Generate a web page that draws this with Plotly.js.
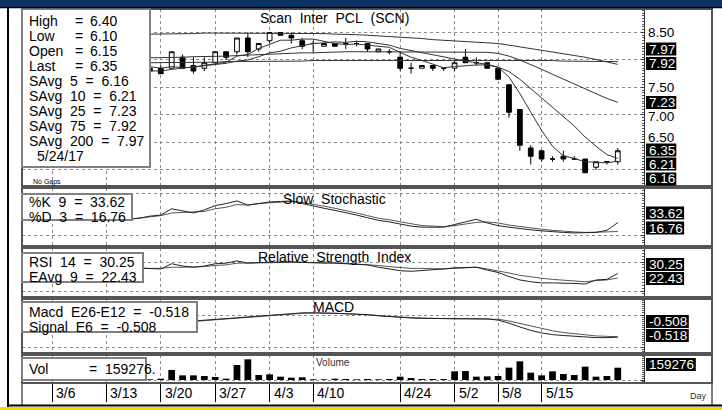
<!DOCTYPE html>
<html><head><meta charset="utf-8">
<script src="https://cdn.plot.ly/plotly-3.0.1.min.js"></script>
<style>html,body{margin:0;padding:0;background:#fff;}#chart{width:722px;height:410px;}</style>
</head><body><div id="chart"></div>
<script>
const W = 722, H = 410;
const FONT = 'Arial, "Liberation Sans", sans-serif';

// ---- data (x = trading-day index, 3/6/17 = 0, 5/24/17 = 52) ----
const candleStart = 9;
const open  = [7.85,7.85,7.85,8.05,7.90,7.85,7.95,8.15,8.15,8.40,8.20,8.35,8.50,8.45,8.35,8.30,8.25,8.30,8.30,8.30,8.30,8.15,8.15,8.05,7.85,7.85,7.90,7.85,7.85,8.05,7.95,7.95,7.85,7.55,7.10,6.40,6.35,6.20,6.25,6.20,6.20,6.05,6.15,6.15];
const high  = [7.90,7.90,8.15,8.10,8.05,8.05,8.15,8.15,8.40,8.50,8.30,8.50,8.50,8.50,8.40,8.35,8.30,8.30,8.40,8.35,8.30,8.20,8.20,8.15,7.95,7.90,7.90,7.85,8.00,8.20,8.05,7.95,7.85,7.55,7.10,6.45,6.35,6.25,6.35,6.25,6.20,6.15,6.15,6.40];
const low   = [7.80,7.75,7.85,7.85,7.75,7.80,7.95,8.00,8.10,8.05,8.15,8.30,8.45,8.30,8.20,8.15,8.25,8.25,8.20,8.25,8.15,8.15,8.10,7.80,7.75,7.85,7.80,7.80,7.80,7.95,7.90,7.85,7.65,6.95,6.35,6.10,6.15,6.15,6.15,6.20,5.95,6.00,6.10,6.10];
const close = [7.80,7.75,8.15,7.85,7.80,7.95,8.15,8.05,8.40,8.15,8.30,8.50,8.45,8.40,8.25,8.30,8.30,8.25,8.30,8.30,8.20,8.20,8.15,7.85,7.85,7.90,7.85,7.85,7.95,7.95,7.95,7.85,7.65,7.05,6.45,6.25,6.20,6.20,6.20,6.20,5.95,6.15,6.15,6.35];
const sma5   = [7.88,7.85,7.88,7.86,7.87,7.90,7.94,7.96,8.07,8.10,8.21,8.28,8.36,8.36,8.38,8.38,8.34,8.30,8.28,8.29,8.27,8.25,8.23,8.14,8.05,7.99,7.92,7.86,7.88,7.90,7.91,7.91,7.87,7.69,7.39,7.05,6.72,6.43,6.26,6.21,6.15,6.14,6.13,6.16];
const sma10  = [7.80,7.80,7.83,7.85,7.87,7.90,7.92,7.94,7.98,8.00,8.06,8.13,8.16,8.22,8.26,8.30,8.31,8.33,8.32,8.34,8.33,8.30,8.27,8.21,8.17,8.13,8.09,8.05,8.01,7.98,7.95,7.92,7.87,7.79,7.65,7.48,7.32,7.15,6.98,6.80,6.60,6.43,6.28,6.21];
const sma25  = [8.04,8.04,8.05,8.05,8.06,8.06,8.07,8.07,8.08,8.09,8.10,8.11,8.12,8.12,8.13,8.13,8.14,8.14,8.15,8.15,8.15,8.15,8.15,8.15,8.15,8.15,8.15,8.14,8.15,8.15,8.15,8.14,8.12,8.07,8.00,7.92,7.83,7.74,7.65,7.57,7.47,7.39,7.30,7.23];
const sma75  = [8.47,8.47,8.48,8.48,8.48,8.49,8.49,8.49,8.49,8.49,8.49,8.49,8.49,8.49,8.48,8.48,8.48,8.47,8.47,8.46,8.45,8.44,8.43,8.42,8.40,8.39,8.37,8.36,8.35,8.34,8.33,8.32,8.30,8.27,8.24,8.21,8.18,8.15,8.12,8.09,8.05,8.01,7.97,7.92];
const sma200 = [7.95,7.95,7.95,7.96,7.96,7.96,7.96,7.97,7.97,7.97,7.97,7.98,7.98,7.98,7.98,7.99,7.99,7.99,7.99,8.00,8.00,8.00,8.00,8.00,8.00,8.00,8.00,8.00,8.00,8.00,8.00,8.00,8.00,8.00,7.99,7.99,7.99,7.99,7.98,7.98,7.98,7.98,7.97,7.97];

const stochStart = 7;
const stochK = [40,42,46,48,60,56,52,58,66,70,75,67,70,73,74,75,70,65,61,57,53,48,43,38,35,31,27,25,25,25,30,35,40,33,28,25,22,20,18,16,15,14,14,15,19,33.62];
const stochD = [40,42,45,47,52,53,53,55,60,63,68,67,70,71,73,74,72,69,65,61,57,52,47,42,39,35,31,28,27,26,28,31,34,35,33,29,26,23,21,19,17,16,15,15,16,16.76];

const rsiStart = 7;
const rsi14    = [40,39,38,38,47,43,41,43,47,48,52,48,49,50,50,50,49,49,48,48,47,47,45,41,38,35,34,35,37,38,40,41,41,36,32,25,19,16,14,14,14,13,12,19,20,30.25];
const rsiEavg9 = [40,39,39,39,41,41,41,42,44,45,48,48,48,48,49,50,49,49,50,49,48,47,46,44,42,40,39,39,38,38,39,40,41,38,35,31,27,24,22,20,18.5,17,16,18,19,22.43];

const macdStart = 12;
const macdLine   = [-0.16,-0.14,-0.12,-0.10,-0.08,-0.06,-0.04,-0.02,0.00,0.02,0.04,0.05,0.05,0.05,0.04,0.03,0.02,0.01,-0.02,-0.04,-0.06,-0.07,-0.08,-0.08,-0.09,-0.09,-0.09,-0.09,-0.09,-0.12,-0.19,-0.28,-0.36,-0.42,-0.46,-0.48,-0.50,-0.52,-0.53,-0.53,-0.518];
const macdSignal = [-0.17,-0.15,-0.13,-0.11,-0.09,-0.07,-0.05,-0.03,-0.01,0.01,0.03,0.04,0.05,0.05,0.04,0.03,0.02,0.01,-0.01,-0.03,-0.05,-0.06,-0.07,-0.08,-0.08,-0.09,-0.09,-0.09,-0.09,-0.10,-0.14,-0.20,-0.26,-0.32,-0.37,-0.41,-0.44,-0.47,-0.49,-0.50,-0.508];

const volStart = 9;
const volume = [9000,17000,130000,60000,60000,52000,39000,17000,194000,268000,65000,73000,43000,30000,35000,9000,9000,17000,13000,9000,13000,9000,13000,43000,26000,13000,13000,13000,112000,117000,43000,47000,52000,160000,242000,95000,60000,112000,78000,65000,173000,43000,52000,159276];

const tickIdx  = [0,5,10,15,20,24,32,37,41,45];
const tickText = ['3/6','3/13','3/20','3/27','4/3','4/10','4/24','5/2','5/8','5/15'];
const lastDate = '5/24/17';

// ---- helpers ----
const xs = (start, arr) => arr.map((_, i) => start + i);
const P = px => px / W;
const Q = py => 1 - py / H;
const last = a => a[a.length - 1];
const nb = s => s.replace(/ /g, '\u00a0');
const f2 = v => v.toFixed(2);

const lineStyle = {color: '#333', width: 1};
const traces = [
  {type: 'candlestick', x: xs(candleStart, open), open, high, low, close,
   xaxis: 'x', yaxis: 'y', whiskerwidth: 0, hoverinfo: 'none',
   increasing: {line: {color: '#000', width: 1}, fillcolor: '#fff'},
   decreasing: {line: {color: '#000', width: 1}, fillcolor: '#000'}},
  ...[sma200, sma75, sma25, sma10, sma5].map(a => ({type: 'scatter', mode: 'lines', x: xs(candleStart, a), y: a,
     xaxis: 'x', yaxis: 'y', line: lineStyle, hoverinfo: 'skip'})),
  {type: 'scatter', mode: 'lines', x: xs(stochStart, stochD), y: stochD, yaxis: 'y2', line: {color: '#555', width: 1}, hoverinfo: 'skip'},
  {type: 'scatter', mode: 'lines', x: xs(stochStart, stochK), y: stochK, yaxis: 'y2', line: {color: '#222', width: 1}, hoverinfo: 'skip'},
  {type: 'scatter', mode: 'lines', x: xs(rsiStart, rsiEavg9), y: rsiEavg9, yaxis: 'y3', line: {color: '#555', width: 1}, hoverinfo: 'skip'},
  {type: 'scatter', mode: 'lines', x: xs(rsiStart, rsi14), y: rsi14, yaxis: 'y3', line: {color: '#222', width: 1}, hoverinfo: 'skip'},
  {type: 'scatter', mode: 'lines', x: xs(macdStart, macdSignal), y: macdSignal, yaxis: 'y4', line: {color: '#555', width: 1}, hoverinfo: 'skip'},
  {type: 'scatter', mode: 'lines', x: xs(macdStart, macdLine), y: macdLine, yaxis: 'y4', line: {color: '#222', width: 1}, hoverinfo: 'skip'},
  {type: 'bar', x: xs(volStart, volume), y: volume, yaxis: 'y5', width: 0.62, marker: {color: '#000', line: {width: 0}}, hoverinfo: 'skip'}
];

function yax(top, bottom, range, gridVals, minorDtick) {
  return {domain: [Q(bottom), Q(top)], range, anchor: 'x', side: 'right', fixedrange: true,
    showline: true, linecolor: '#333', linewidth: 1, ticks: 'inside', ticklen: 3, tickcolor: '#333',
    tickmode: 'array', tickvals: gridVals, showticklabels: false,
    showgrid: true, gridcolor: '#8a8a8a', griddash: 'dot', gridwidth: 1, zeroline: false,
    minor: {dtick: minorDtick, ticks: 'inside', ticklen: 2, tickcolor: '#555', showgrid: false}};
}

const shapes = [];
const rect = (x0, y0, x1, y1, o) => shapes.push(Object.assign({type: 'rect', xref: 'paper', yref: 'paper',
  x0: P(x0), x1: P(x1), y0: Q(y1), y1: Q(y0), layer: 'above'}, o));
const hline = (x0, x1, y, color, w) => shapes.push({type: 'line', xref: 'paper', yref: 'paper',
  x0: P(x0), x1: P(x1), y0: Q(y), y1: Q(y), line: {color, width: w}, layer: 'above'});
const vline = (x, y0, y1, color, w) => shapes.push({type: 'line', xref: 'paper', yref: 'paper',
  x0: P(x), x1: P(x), y0: Q(y0), y1: Q(y1), line: {color, width: w}, layer: 'above'});

// panel frames
[[9,186],[188,246],[248,297],[299,353],[355,383]].forEach(([t,b]) =>
  rect(22, t, 712, b, {line: {color: '#555', width: 2}, fillcolor: 'rgba(0,0,0,0)'}));
vline(22, 383, 405, '#555', 1.5);
vline(712, 383, 405, '#555', 1.5);
// legend boxes
const box = (x1, y0, y1) => rect(22, y0, x1, y1, {line: {color: '#808080', width: 2}, fillcolor: '#fff'});
box(150, 9, 167); box(132, 194, 220); box(143, 253, 282); box(197, 302, 332); box(146, 358, 380);
// outer frame decorations
rect(0, 0, 722, 7, {line: {width: 0}, fillcolor: '#0e3466'});
hline(0, 722, 7.5, '#000', 1.5);
rect(7, 7, 9, 407, {line: {width: 0}, fillcolor: '#000'});
hline(7, 722, 405.5, '#000', 2);
rect(0, 407, 722, 410, {line: {width: 0}, fillcolor: '#f5d10f'});

const ann = [];
const T = (x, y, text, o = {}) => ann.push(Object.assign({xref: 'paper', yref: 'paper', x: P(x), y: Q(y),
  xanchor: 'left', yanchor: 'middle', text: nb(text), showarrow: false,
  font: {family: FONT, size: 14, color: '#000'}}, o));
// right-hand value label: black box (shape) with white text
const textW = s => s.split('').reduce((w, c) => w + (c === '.' ? 3.9 : c === '-' ? 4.7 : 7.8), 0);
const B = (y, text) => {
  rect(646, y - 6.5, 646 + textW(text) + 3, y + 6.5, {line: {width: 0}, fillcolor: '#000'});
  T(647, y, text, {font: {family: FONT, size: 13.5, color: '#fff'}});
};

// titles
T(334, 18, 'Scan  Inter  PCL  (SCN)', {xanchor: 'center'});
T(334, 199, 'Slow  Stochastic', {xanchor: 'center'});
T(334, 257, 'Relative  Strength  Index', {xanchor: 'center'});
T(333, 307, 'MACD', {xanchor: 'center'});
T(333, 362, 'Volume', {xanchor: 'center', font: {family: FONT, size: 10, color: '#333'}});
T(688, 396, 'Day', {font: {family: FONT, size: 9, color: '#333'}});
T(31, 182, 'No Gaps', {font: {family: FONT, size: 7, color: '#000'}});

// price legend
const li = close.length - 1;
[['High', high[li]], ['Low', low[li]], ['Open', open[li]], ['Last', close[li]]].forEach(([k, v], i) => {
  T(27, 21 + 15 * i, k); T(73, 21 + 15 * i, '='); T(88, 21 + 15 * i, f2(v));
});
[['5', sma5], ['10', sma10], ['25', sma25], ['75', sma75], ['200', sma200]].forEach(([n, a], i) =>
  T(27, 81 + 15 * i, 'SAvg  ' + n + '  =  ' + f2(last(a))));
T(35, 156, lastDate);
// indicator legends
T(27, 202, '%K  9  =  ' + f2(last(stochK)));
T(27, 217, '%D  3  =  ' + f2(last(stochD)));
T(27, 262, 'RSI  14  =  ' + f2(last(rsi14)));
T(27, 277, 'EAvg  9  =  ' + f2(last(rsiEavg9)));
T(27, 312, 'Macd  E26-E12  =  ' + last(macdLine).toFixed(3));
T(27, 327, 'Signal  E6  =  ' + last(macdSignal).toFixed(3));
T(27, 369, 'Vol'); T(87, 369, '='); T(103, 369, last(volume) + '.');

// right scale labels (plain)
[[33, '8.50'], [88, '7.50'], [116, '7.00'], [137, '6.50']].forEach(([y, t]) => T(646, y, t, {font: {family: FONT, size: 13.5, color: '#000'}}));
// boxed last values
B(49, f2(last(sma200))); B(63.5, f2(last(sma75))); B(102.5, f2(last(sma25)));
B(150, f2(close[li])); B(164, f2(last(sma10))); B(179, f2(last(sma5)));
B(213, f2(last(stochK))); B(228, f2(last(stochD)));
B(264.5, f2(last(rsi14))); B(278.5, f2(last(rsiEavg9)));
B(321.5, last(macdSignal).toFixed(3)); B(335.5, last(macdLine).toFixed(3));
B(364.5, String(last(volume)));

// date labels
tickIdx.forEach((t, i) => ann.push({xref: 'x', yref: 'paper', x: t, y: Q(393), xanchor: 'left', yanchor: 'middle',
  xshift: 2, text: tickText[i], showarrow: false, font: {family: FONT, size: 14, color: '#000'}}));

const layout = {
  width: W, height: H, margin: {l: 0, r: 0, t: 0, b: 0}, paper_bgcolor: '#fff', plot_bgcolor: 'rgba(0,0,0,0)',
  showlegend: false, boxgap: 0.38, dragmode: false, hovermode: false,
  xaxis: {domain: [P(22), P(644)], range: [-2.757, 54.41], anchor: 'y5', fixedrange: true,
    rangeslider: {visible: false}, tickmode: 'array', tickvals: tickIdx, showticklabels: false,
    ticks: 'outside', ticklen: 18, tickcolor: '#000', tickwidth: 1,
    showgrid: true, gridcolor: '#8a8a8a', griddash: 'dot', gridwidth: 1, zeroline: false,
    showline: true, linecolor: '#444', linewidth: 1},
  yaxis:  yax(9, 186, [5.709, 8.927], [6, 6.5, 7, 7.5, 8, 8.5], 0.05),
  yaxis2: yax(188, 246, [-10.86, 99.6], [10, 90], 5),
  yaxis3: yax(248, 297, [-10.34, 74.14], [0, 50], 5),
  yaxis4: yax(299, 353, [-0.89, 0.375], [0, -0.75], 0.05),
  yaxis5: yax(355, 383, [-38850, 323750], [0], 25000),
  shapes, annotations: ann
};
Plotly.newPlot('chart', traces, layout, {staticPlot: true, displayModeBar: false});
</script></body></html>
